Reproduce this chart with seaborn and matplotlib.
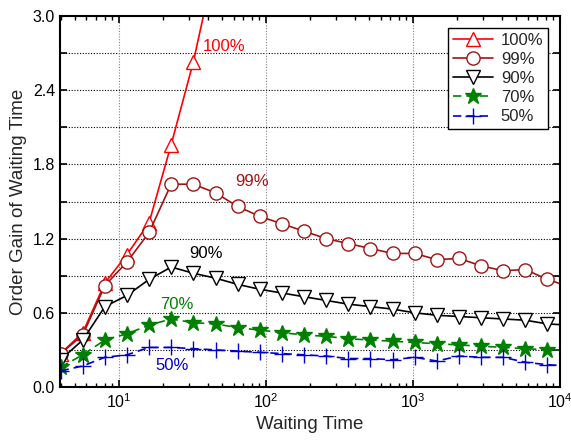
import numpy as np
import pandas as pd
import matplotlib
matplotlib.use("Agg")
import matplotlib.pyplot as plt
import seaborn as sns
from matplotlib.ticker import LogLocator, MultipleLocator, FixedLocator

# ---- data ----
waiting_time = [4, 5.66, 8, 11.3, 16, 22.6, 32, 45.3, 64, 90.5, 128, 181, 256, 362,
                512, 724, 1024, 1448, 2048, 2896, 4096, 5793, 8192, 11585]
gain_100 = [0.27, 0.44, 0.84, 1.07, 1.33, 1.96, 2.63, 3.45]
gain_99 = [0.27, 0.42, 0.82, 1.01, 1.25, 1.64, 1.64, 1.57, 1.46, 1.38, 1.32, 1.26,
           1.20, 1.16, 1.12, 1.08, 1.08, 1.03, 1.04, 0.98, 0.94, 0.95, 0.87, 0.81]
gain_90 = [0.22, 0.38, 0.65, 0.74, 0.87, 0.97, 0.92, 0.88, 0.83, 0.79, 0.76, 0.73,
           0.70, 0.67, 0.65, 0.63, 0.60, 0.58, 0.57, 0.56, 0.55, 0.54, 0.51, 0.50]
gain_70 = [0.16, 0.26, 0.38, 0.43, 0.50, 0.55, 0.52, 0.51, 0.48, 0.46, 0.44, 0.42,
           0.41, 0.39, 0.38, 0.37, 0.36, 0.35, 0.34, 0.33, 0.32, 0.31, 0.30, 0.30]
gain_50 = [0.13, 0.17, 0.24, 0.26, 0.32, 0.32, 0.31, 0.30, 0.29, 0.28, 0.27, 0.26,
           0.25, 0.23, 0.23, 0.22, 0.24, 0.21, 0.25, 0.24, 0.24, 0.20, 0.18, 0.17]
series_labels = ["100%", "99%", "90%", "70%", "50%"]
y_ticks = [0.0, 0.6, 1.2, 1.8, 2.4, 3.0]

sns.set_style("ticks")
plt.rcParams['font.family'] = ['Liberation Sans', 'DejaVu Sans']
plt.rcParams['mathtext.default'] = 'regular'

fig = plt.figure(figsize=(5.71, 4.40), dpi=100)
ax = fig.add_axes([0.105, 0.1205, 0.876, 0.843])

styles = [
    dict(color="#FF0000", marker="^", ls="-", mfc="white", mec="#FF0000", ms=10),
    dict(color="#A01414", marker="o", ls="-", mfc="white", mec="#A01414", ms=9.5),
    dict(color="#000000", marker="v", ls="-", mfc="white", mec="#000000", ms=10),
    dict(color="#008000", marker="*", ls=(0, (5, 3)), mfc="#008000", mec="#008000", ms=12),
    dict(color="#0000CC", marker="+", ls=(0, (5, 3)), mfc="#0000CC", mec="#0000CC", ms=11),
]
all_y = [gain_100, gain_99, gain_90, gain_70, gain_50]
for lab, ys, st in zip(series_labels, all_y, styles):
    xs = waiting_time[:len(ys)]
    df = pd.DataFrame({"x": xs, "y": ys})
    sns.lineplot(data=df, x="x", y="y", ax=ax, label=lab, color=st["color"],
                 linestyle=st["ls"], marker=st["marker"], markersize=st["ms"],
                 markerfacecolor=st["mfc"], markeredgecolor=st["mec"],
                 markeredgewidth=1.0, linewidth=1.2, legend=False)

ax.set_xscale("log")
ax.set_xlim(3.96, 10000)
ax.set_ylim(0, 3.0)
ax.yaxis.set_major_locator(FixedLocator(y_ticks))
ax.yaxis.set_minor_locator(MultipleLocator(0.3))
ax.set_yticklabels([f"{v:.1f}" for v in y_ticks])
ax.xaxis.set_major_locator(LogLocator(base=10, numticks=10))
ax.xaxis.set_minor_locator(LogLocator(base=10, subs=np.arange(2, 10), numticks=20))

ax.grid(False)
for yv in np.arange(0.3, 3.0, 0.3):
    ax.axhline(yv, color="black", ls=(0, (1, 1.5)), lw=0.8, zorder=0)
for xv in [10, 100, 1000]:
    ax.axvline(xv, color="gray", ls=(0, (1, 1.5)), lw=0.8, zorder=0)

ax.tick_params(axis="both", which="both", direction="in", top=True, right=True,
               labelsize=11.5, colors="black")
ax.tick_params(axis="both", which="major", length=5, width=1.2)
ax.tick_params(axis="y", which="minor", length=5, width=1.2)
ax.tick_params(axis="x", which="minor", length=3, width=1.0)
for sp in ax.spines.values():
    sp.set_linewidth(1.5)
    sp.set_color("black")

ax.set_xlabel("Waiting Time", fontsize=13.5)
ax.set_ylabel("Order Gain of Waiting Time", fontsize=13.5)

ax.text(37, 2.75, "100%", color="#FF0000", fontsize=12, va="center")
ax.text(62, 1.665, "99%", color="#A01414", fontsize=12, va="center")
ax.text(30, 1.08, "90%", color="black", fontsize=12, va="center")
ax.text(19, 0.67, "70%", color="#008000", fontsize=12, va="center")
ax.text(17.6, 0.17, "50%", color="#0000CC", fontsize=12, va="center")

leg = ax.legend(loc="upper right", fontsize=12, frameon=True, fancybox=False,
                edgecolor="black", framealpha=1, numpoints=1, handlelength=2.4,
                borderaxespad=0.7, labelspacing=0.25, handletextpad=0.5,
                borderpad=0.3)
leg.get_frame().set_linewidth(1.0)

fig.savefig("out.png", dpi=100)
